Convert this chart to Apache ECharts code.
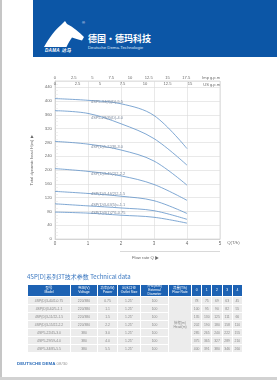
<!DOCTYPE html>
<html>
<head>
<meta charset="utf-8">
<script src="https://cdn.jsdelivr.net/npm/echarts@6/dist/echarts.min.js"></script>
<style>
  html, body { margin: 0; padding: 0; background: #fff; }
  #page { position: relative; width: 277px; height: 380px; overflow: hidden; background: #fff;
          font-family: "Liberation Sans", "Noto Sans CJK SC", sans-serif; }
  .edgeL { position: absolute; left: 0; top: 0; width: 2px; height: 380px; background: #c6c6c6; }
  .edgeB { position: absolute; left: 0; top: 377px; width: 277px; height: 3px; background: #d2d2d2; }
  #banner { position: absolute; left: 33px; top: 0; width: 244px; height: 57px; background: #0c56a6; }
  #logo { position: absolute; left: 11px; top: 21px; }
  .reg { position: absolute; left: 49px; top: 20px; color: #fff; font-size: 4px; }
  .dama { position: absolute; left: 12px; top: 47px; color: #fff; font-size: 4.6px; font-weight: bold;
          font-style: italic; letter-spacing: 0.3px; }
  .cn { position: absolute; left: 55px; top: 32px; color: #fff; font-size: 9px; font-weight: bold;
        font-family: "Noto Sans CJK SC", sans-serif; white-space: nowrap; }
  .en { position: absolute; left: 55px; top: 44.5px; color: #dfe8f5; font-size: 4.3px; white-space: nowrap; }
  #chart { position: absolute; left: 0; top: 60px; width: 277px; height: 210px; }
  .rule { position: absolute; left: 120px; top: 251px; width: 100px; height: 0.6px; background: #d9d9d9; }
  .flow { position: absolute; left: 132px; top: 253.5px; font-size: 4.2px; color: #666; white-space: nowrap; }
  .title { position: absolute; left: 27px; top: 272px; font-size: 6px; color: #3a77c0; white-space: nowrap;
           font-family: "Noto Sans CJK SC", sans-serif; }
  #tbl { position: absolute; left: 27px; top: 284px; width: 215px; border-collapse: collapse;
         table-layout: fixed; font-size: 3.4px; color: #8a8a8a; }
  #tbl th { background: #1d62b3; color: #fff; font-weight: normal; height: 10px; padding: 0;
            line-height: 3.8px; border: 0.5px solid #fff; text-align: center; }
  #tbl td { background: #ececec; height: 7px; padding: 0; line-height: 4px; text-align: center;
            border: 0.5px solid #fff; white-space: nowrap; overflow: hidden; }
  .foot { position: absolute; left: 17px; top: 361px; font-size: 4.4px; white-space: nowrap; }
  .foot b { color: #2a6bb8; font-weight: bold; }
  .foot span { color: #999; }
</style>
</head>
<body>
<div id="page">
  <div class="edgeL"></div>
  <div class="edgeB"></div>
  <div id="banner">
    <svg id="logo" width="42" height="26" viewBox="0 0 42 26">
      <path d="M0,26 C5,17 11,9 17,4 L21,0 L23,3 C29,6 35,11 40,16 L38,19.5 C34,18.5 31,17.5 28,16.5 C26,19.5 24,22.5 22.5,26 Z" fill="#fff"/>
    </svg>
    <div class="reg">®</div>
    <div class="dama">DAMA 达马</div>
    <div class="cn">德国·德玛科技</div>
    <div class="en">Deutsche Dema-Technologie</div>
  </div>
  <div id="chart"></div>
  <div class="rule"></div>
  <div class="flow">Flow rate Q &#9654;</div>
  <div class="title">4SP[D]系列3T技术参数 Technical data</div>
  <table id="tbl"></table>
  <div class="foot"><b>DEUTSCHE DEMA</b> <span>08/30</span></div>
</div>
<script>
// 4SP[D] 3T 性能曲线 — 流量 Q(T/h) vs 扬程 H(m)
const FLOW = [0, 1, 2, 3, 4];
const HEAD_55  = [407, 402, 392, 358, 262];
const HEAD_40  = [372, 364, 334, 291, 214];
const HEAD_30  = [283, 275, 258, 226, 156];
const HEAD_22  = [204, 196, 183, 158, 112];
const HEAD_15  = [138, 132, 124, 111, 74];
const HEAD_11  = [102, 96, 90, 82, 57];
const HEAD_075 = [78, 75, 69, 63, 46];
const CURVE_NAMES = [
  "4SP5-34(8)(D)-5.5", "4SP5-29(8)(D)-4.0", "4SP(D)5-22(8)-3.0", "4SP(D)3-45(2)2-2.2",
  "4SP(D)3-44(2)2-1.5", "4SP(D)3-63(5)u-1.1", "4SP(D)3(1)2*6-0.75",
];
const CURVES = [HEAD_55, HEAD_40, HEAD_30, HEAD_22, HEAD_15, HEAD_11, HEAD_075];
const LABEL_DY = [1.5, 4.5, 2.7, 2.7, 0, -1.2, 0];   // 曲线标签相对位置

// top axes tick labels
const TOP_ROW1_MAX = 17.5;
const TOP_ROW2_MAX = 15;

// 技术参数表
const TABLE_COLS = [["型号", "Model"], ["电压(V)", "Voltage"], ["功率(kW)", "Power"],
  ["出水口径", "Outlet Size"], ["外径(mm)", "External Diameter"], ["流量(T/h)", "Flow Rate"],
  ["0"], ["1"], ["2"], ["3"], ["4"]];
const MODELS  = ["4SP(D)3-40/2-0.75", "4SP(D)3-62/5-1.1", "4SP(D)3-11/22-1.5", "4SP(D)3-15/22-2.2",
                 "4SP5-22/45-3.0", "4SP5-29/59-4.0", "4SP5-34/85-5.5"];
const VOLTAGE = ["220/380", "220/380", "220/380", "220/380", "380", "380", "380"];
const POWER   = ["0.75", "1.1", "1.5", "2.2", "3.0", "4.0", "5.5"];
const OUTLET  = ['1.25"', '1.25"', '1.25"', '1.25"', '1.25"', '1.25"', '1.25"'];
const DIAM    = [100, 100, 100, 100, 100, 100, 100];
const T_075 = [78, 75, 69, 63, 45];
const T_11  = [100, 95, 90, 82, 55];
const T_15  = [135, 130, 125, 111, 66];
const T_22  = [202, 190, 180, 158, 110];
const T_30  = [285, 265, 240, 222, 155];
const T_40  = [375, 365, 327, 289, 210];
const T_55  = [400, 391, 380, 346, 260];
const TABLE_HEADS = [T_075, T_11, T_15, T_22, T_30, T_40, T_55];

// ── table ──────────────────────────────────────────
function buildTable() {
  const widths = [43, 27, 20, 23, 28, 23, 10.2, 10.2, 10.2, 10.2, 10.2];
  let html = "<colgroup>" + widths.map(w => `<col style="width:${w}px">`).join("") + "</colgroup><tr>";
  html += TABLE_COLS.map(c => `<th>${c.join("<br>")}</th>`).join("") + "</tr>";
  MODELS.forEach((m, i) => {
    html += `<tr><td>${m}</td><td>${VOLTAGE[i]}</td><td>${POWER[i]}</td><td>${OUTLET[i]}</td><td>${DIAM[i]}</td>`;
    if (i === 0) html += `<td rowspan="${MODELS.length}">扬程(m)<br>Head(m)</td>`;
    html += TABLE_HEADS[i].map(v => `<td>${v}</td>`).join("") + "</tr>";
  });
  document.getElementById("tbl").innerHTML = html;
}
buildTable();

// ── chart ──────────────────────────────────────────
const axisClr = "#c9c9c9";
const gridClr = "#dadada";
const txtClr  = "#6a6a6a";
const font    = "Liberation Sans";
const LINE_CLR = "#6092c8";

const chart = echarts.init(document.getElementById("chart"));

const series = CURVES.map((h, k) => ({
  type: "line", xAxisIndex: 0, yAxisIndex: 0,
  data: FLOW.map((q, i) => i === 1
    ? { value: [q, h[i]], label: { show: true, formatter: CURVE_NAMES[k], offset: [0, LABEL_DY[k]] } }
    : [q, h[i]]),
  smooth: 0.35, symbol: "circle", symbolSize: 0, showSymbol: true,
  lineStyle: { color: LINE_CLR, width: 0.8 }, itemStyle: { color: LINE_CLR },
  label: { position: "right", distance: 3, fontSize: 3.9, color: "#7a889c", fontFamily: font },
  silent: true,
}));

const topAxis = (max, shown, inside, name) => ({
  type: "value", position: "top", min: 0, max, interval: 2.5,
  axisLine: { show: false }, axisTick: { show: false }, splitLine: { show: false },
  axisLabel: {
    inside, margin: inside ? 1.2 : 1.4, fontSize: 4.1, color: txtClr, fontFamily: font,
    formatter: v => (v <= shown + 1e-6 ? String(v) : ""),
  },
  name, nameLocation: "end", nameGap: 0,
  nameTextStyle: {
    align: "right", verticalAlign: inside ? "top" : "bottom", fontSize: 4, color: txtClr, fontFamily: font,
    padding: inside ? [1.4, 0, 0, 0] : [0, 0, 1.2, 0],
  },
});

chart.setOption({
  animation: false,
  grid: { left: 55, top: 21, width: 165, height: 158, show: true, borderColor: axisClr, borderWidth: 0.6 },
  xAxis: [
    {
      type: "value", min: 0, max: 5, interval: 1,
      axisLine: { lineStyle: { color: axisClr, width: 0.6 } }, axisTick: { show: false },
      axisLabel: { fontSize: 4.5, color: txtClr, margin: 2, fontFamily: font },
      splitLine: { lineStyle: { color: gridClr, width: 0.6 } },
      name: "Q(T/h)", nameLocation: "end", nameGap: 5,
      nameTextStyle: { fontSize: 4.3, color: txtClr, verticalAlign: "top", padding: [1.8, 0, 0, 0], fontFamily: font },
    },
    topAxis(22.0, TOP_ROW1_MAX, false, "Imp g.p.m"),
    topAxis(18.33, TOP_ROW2_MAX, true, "US g.p.m"),
  ],
  yAxis: {
    type: "value", min: 0, max: 458, interval: 40,
    axisLine: { show: true, lineStyle: { color: axisClr, width: 0.6 } },
    axisTick: { show: false, inside: true },
    minorTick: { show: true, splitNumber: 4, length: 3, lineStyle: { color: "#e2e2e2", width: 0.5 } },
    axisLabel: { fontSize: 4.3, color: txtClr, margin: 3, fontFamily: font,
                 formatter: v => (v % 40 === 0 ? String(v) : "") },
    splitLine: { lineStyle: { color: gridClr, width: 0.6 } },
    name: "Total dynamic head H(m)  \u25B6", nameLocation: "middle", nameRotate: 90, nameGap: 12,
    nameTextStyle: { fontSize: 4.1, color: txtClr, fontFamily: font, padding: [0, 0, 0, 0] },
  },
  series,
});
</script>
</body>
</html>
